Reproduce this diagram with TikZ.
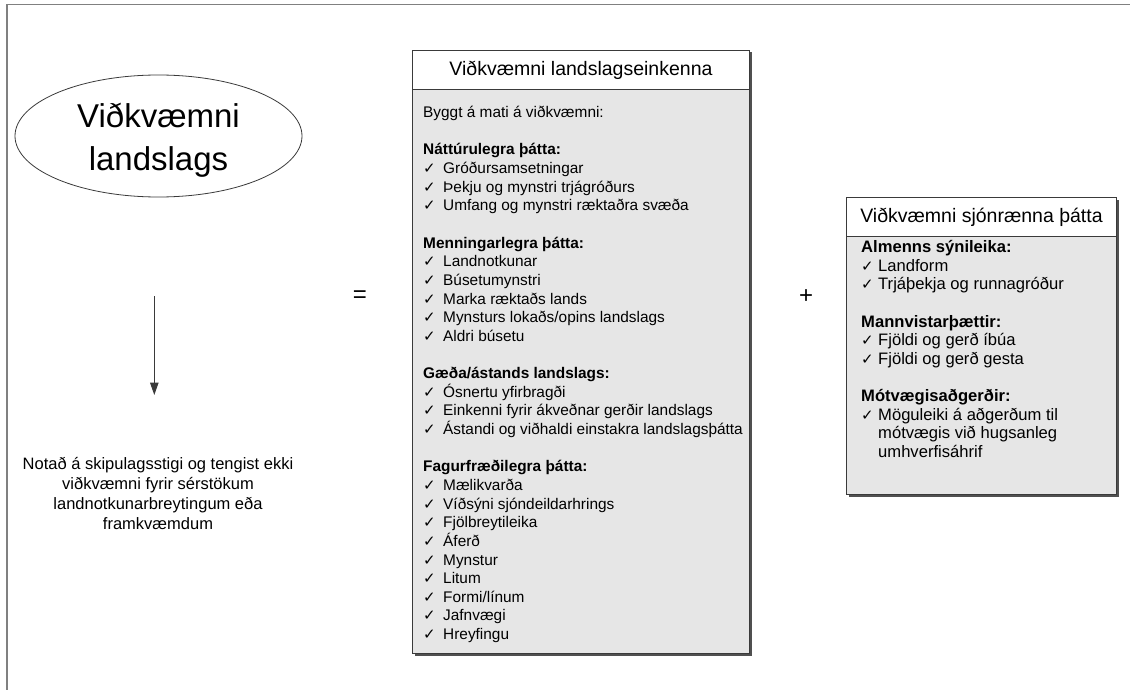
\documentclass[tikz,border=0pt]{standalone}
\usepackage{fontspec}
\setmainfont{Liberation Sans}
\newfontfamily\chkfont{DejaVu Sans}
\usetikzlibrary{shapes.geometric,arrows.meta,shadows}
\definecolor{boxgray}{HTML}{E6E6E6}
\definecolor{edgecol}{HTML}{3A3A3A}
\definecolor{shadcol}{HTML}{505050}
\definecolor{framecol}{HTML}{808080}
\newcommand{\mychkA}{\makebox[20pt][l]{\chkfont\fontsize{15}{15}\selectfont ✓}}
\newcommand{\mychkB}{\makebox[17pt][l]{\chkfont\fontsize{15}{15}\selectfont ✓}}
\tikzset{
  boxbody/.style={draw=edgecol, fill=boxgray, line width=1pt, inner sep=0, anchor=north west,
    drop shadow={shadow xshift=2pt, shadow yshift=-2pt, fill=shadcol, opacity=1}},
  boxtitle/.style={draw=edgecol, fill=white, line width=1pt, inner sep=0, anchor=north west,
    font=\fontsize{19.5}{22}\selectfont},
  bodytext/.style={anchor=north west, align=left, inner sep=0},
  opsign/.style={inner sep=0, font=\fontsize{24}{24}\selectfont},
}
\begin{document}
\begin{tikzpicture}[x=1pt,y=-1pt]
\useasboundingbox (0,0) rectangle (1130,690);

% page frame
\coordinate (fbl) at (7,690);
\coordinate (ftl) at (7,4.5);
\coordinate (ftr) at (1130,4.5);
\draw[framecol, line width=1.3pt] (fbl) -- (ftl) -- (ftr);

% ellipse
\node[ellipse, draw=edgecol, line width=0.8pt, minimum width=287pt, minimum height=122pt,
  inner sep=0] (ell) at (158.5,136) {};
\node[align=center, inner sep=0, font=\fontsize{33}{43}\selectfont] (elltext) at (158.5,140)
  {Viðkvæmni\\landslags};

% arrow
\coordinate (as) at (154.3,296);
\coordinate (ae) at (154.3,395);
\draw[edgecol, line width=1pt, -{Triangle[length=12.5pt,width=8.5pt]}] (as) -- (ae);

% note text
\node[anchor=north, align=center, inner sep=0, font=\fontsize{16.5}{20}\selectfont] (note) at (158,453)
  {\rule{0pt}{16pt}Notað á skipulagsstigi og tengist ekki\\viðkvæmni fyrir sérstökum\\landnotkunarbreytingum eða\\framkvæmdum};

% operators
\node[opsign] (eq) at (360,296.5) {=};
\node[opsign] (plus) at (806,297) {+};

% middle box
\node[boxbody, minimum width=337pt, minimum height=603pt] (mid) at (412,50) {};
\node[boxtitle, minimum width=337pt, minimum height=39pt] (midtitle) at (412,50) {Viðkvæmni landslagseinkenna};
\node[bodytext, font=\fontsize{15.4}{18.64}\selectfont] (midtxt) at (423,102.5) {%
\rule{0pt}{15pt}Byggt á mati á viðkvæmni:\\[18.64pt]
\textbf{Náttúrulegra þátta:}\\
\mychkA Gróðursamsetningar\\
\mychkA Þekju og mynstri trjágróðurs\\
\mychkA Umfang og mynstri ræktaðra svæða\\[18.64pt]
\textbf{Menningarlegra þátta:}\\
\mychkA Landnotkunar\\
\mychkA Búsetumynstri\\
\mychkA Marka ræktaðs lands\\
\mychkA Mynsturs lokaðs/opins landslags\\
\mychkA Aldri búsetu\\[18.64pt]
\textbf{Gæða/ástands landslags:}\\
\mychkA Ósnertu yfirbragði\\
\mychkA Einkenni fyrir ákveðnar gerðir landslags\\
\mychkA Ástandi og viðhaldi einstakra landslagsþátta\\[18.64pt]
\textbf{Fagurfræðilegra þátta:}\\
\mychkA Mælikvarða\\
\mychkA Víðsýni sjóndeildarhrings\\
\mychkA Fjölbreytileika\\
\mychkA Áferð\\
\mychkA Mynstur\\
\mychkA Litum\\
\mychkA Formi/línum\\
\mychkA Jafnvægi\\
\mychkA Hreyfingu};

% right box
\node[boxbody, minimum width=270pt, minimum height=297pt] (right) at (846,197) {};
\node[boxtitle, minimum width=270pt, minimum height=39pt] (righttitle) at (846,197) {Viðkvæmni sjónrænna þátta};
\node[bodytext, font=\fontsize{16.6}{18.6}\selectfont] (righttxt) at (861,236.5) {%
\rule{0pt}{16pt}\textbf{Almenns sýnileika:}\\
\mychkB Landform\\
\mychkB Trjáþekja og runnagróður\\[18.6pt]
\textbf{Mannvistarþættir:}\\
\mychkB Fjöldi og gerð íbúa\\
\mychkB Fjöldi og gerð gesta\\[18.6pt]
\textbf{Mótvægisaðgerðir:}\\
\mychkB Möguleiki á aðgerðum til\\
\hspace*{17pt}mótvægis við hugsanleg\\
\hspace*{17pt}umhverfisáhrif};
\end{tikzpicture}
\end{document}
